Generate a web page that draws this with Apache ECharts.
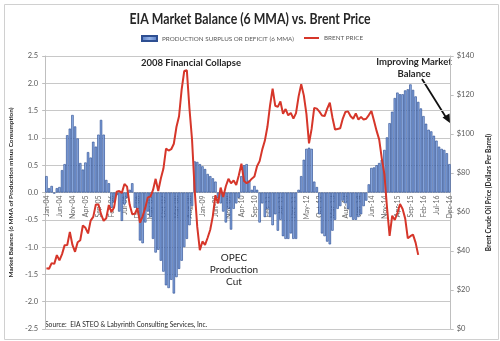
<!DOCTYPE html>
<html><head><meta charset="utf-8">
<script src="https://cdn.jsdelivr.net/npm/echarts@6/dist/echarts.min.js"></script>
<style>html,body{margin:0;padding:0;background:#fff}#c{width:500px;height:341px}</style>
</head><body><div id="c"></div>
<script>
var startYear = 2004, endYear = 2016;
var monNames = ['Jan','Feb','Mar','Apr','May','Jun','Jul','Aug','Sep','Oct','Nov','Dec'];
var categories = [];
for (var y = startYear; y <= endYear; y++) for (var m = 0; m < 12; m++) categories.push(monNames[m] + '-' + String(y).slice(2));

var balance = [
 0.30, 0.08, 0.12,-0.02, 0.08, 0.10, 0.41, 0.52, 1.05, 1.17, 1.42, 1.21,
 0.99, 0.54, 0.42, 0.55, 0.74, 0.64, 0.93, 0.84, 1.06, 1.33, 1.06, 0.23,
 0.17,-0.28,-0.18,-0.05,-0.35,-0.52,-0.22,-0.10, 0.05, 0.17,-0.28,-0.30,
-0.88,-0.93,-0.55,-0.35,-0.45,-0.85,-1.10,-1.05,-1.25,-1.45,-1.70,-1.75,
-1.60,-1.85,-1.55,-1.40,-1.25,-1.00,-0.85,-0.60,-0.25, 0.57, 0.56, 0.52,
 0.48, 0.43, 0.34, 0.30, 0.26, 0.20,-0.10,-0.20,-0.35,-0.55,-0.30,-0.68,
-0.30,-0.20,-0.10, 0.30, 0.50, 0.52, 0.22, 0.05, 0.12, 0.05,-0.55,-0.20,
-0.45,-0.30,-0.45,-0.60,-0.40,-0.70,-0.50,-0.80,-0.85,-0.85,-0.75,-0.85,
-0.85, 0.05, 0.30, 0.60, 0.80, 0.82, 0.80, 0.20, 0.10,-0.40,-0.75,-0.80,
-0.90,-0.95,-0.70,-0.50,-0.30,-0.25,-0.15,-0.20,-0.30,-0.45,-0.50,-0.50,
-0.45,-0.40,-0.25,-0.15, 0.15, 0.45, 0.46, 0.50, 0.54, 0.60, 0.78, 1.01,
 1.27, 1.48, 1.73, 1.83, 1.80, 1.80, 1.87, 1.89, 1.98, 1.88, 1.76, 1.66,
 1.54, 1.40, 1.26, 1.15, 1.12, 1.04, 0.95, 0.84, 0.80, 0.78, 0.72, 0.52
];

var brent = [
 31.2, 30.9, 33.8, 33.4, 37.9, 35.2, 38.4, 43.0, 43.1, 49.8, 43.1, 39.6,
 44.5, 45.5, 53.1, 51.9, 49.0, 55.6, 57.5, 63.9, 63.8, 58.9, 55.5, 56.8,
 63.6, 60.0, 62.3, 70.4, 70.8, 69.8, 74.4, 73.0, 63.8, 58.9, 59.1, 62.0,
 54.5, 57.8, 62.1, 67.5, 67.9, 71.3, 77.0, 70.8, 77.2, 82.3, 92.5, 91.5,
 92.2, 95.0, 103.6, 109.1, 122.8, 132.3, 132.7, 113.2, 97.2, 71.6, 52.5, 40.4,
 44.9, 43.1, 46.8, 50.9, 57.9, 68.6, 64.4, 72.5, 67.7, 73.2, 77.0, 74.7,
 76.2, 73.8, 78.8, 84.8, 75.9, 74.8, 75.6, 77.1, 78.2, 83.5, 86.1, 92.0,
 96.5, 103.7, 114.6, 123.3, 114.5, 113.9, 116.7, 110.4, 112.8, 109.6, 110.8, 107.9,
 110.7, 119.3, 125.5, 119.8, 110.3, 95.2, 102.6, 113.4, 113.0, 111.5, 109.5, 109.2,
 113.0, 116.1, 108.5, 102.3, 102.6, 102.9, 107.9, 111.3, 111.6, 109.1, 107.8, 110.6,
 107.4, 108.8, 107.4, 107.8, 109.7, 111.8, 106.8, 101.6, 97.1, 87.4, 79.4, 62.3,
 47.8, 58.1, 55.9, 59.5, 64.1, 61.5, 56.6, 46.5, 47.6, 48.4, 44.3, 38.0
];

var leftTicks = {min: -2.5, max: 2.5, step: 0.5};
var rightTicks = {min: 0, max: 140, step: 20};

var gridTop = 56, gridBottom = 12, H = 341;
var plotH = H - gridTop - gridBottom;
var zeroOffset = -plotH * (0 - leftTicks.min) / (leftTicks.max - leftTicks.min);

var chart = echarts.init(document.getElementById('c'), null, {renderer: 'canvas'});
var gray = '#595959';
var dark = '#262626';
var font = 'Lato';
function label(x, y, text, size, bold, sx) {
  return {type: 'text', x: x, y: y, scaleX: sx || 1,
    style: {text: text, fontSize: size, fontWeight: bold ? 'bold' : 'normal', fontFamily: font, fill: dark, align: 'center', verticalAlign: 'middle'}};
}
chart.setOption({
  animation: false,
  textStyle: {fontFamily: font},
  legend: [{
    data: ['PRODUCTION SURPLUS OR DEFICIT (6 MMA)'],
    left: 141, top: 35, itemWidth: 15, itemHeight: 5, itemGap: 2,
    icon: 'rect', padding: 0,
    textStyle: {fontSize: 6.3, color: gray}
  }, {
    data: ['BRENT PRICE'],
    left: 304, top: 35, itemWidth: 15, itemHeight: 2, padding: 0,
    icon: 'rect',
    textStyle: {fontSize: 6.3, color: gray}
  }],
  grid: {left: 43, right: 45, top: gridTop, bottom: gridBottom},
  xAxis: {
    type: 'category', data: categories, position: 'bottom', offset: zeroOffset,
    axisLine: {onZero: false, lineStyle: {color: '#bfbfbf'}},
    axisTick: {show: false},
    axisLabel: {interval: 4, rotate: 90, fontSize: 7, color: '#666', margin: 3}
  },
  yAxis: [{
    type: 'value', min: leftTicks.min, max: leftTicks.max, interval: leftTicks.step,
    name: 'Market Balance (6 MMA of Production minus Consumption)',
    nameLocation: 'middle', nameRotate: 90, nameGap: 21,
    nameTextStyle: {fontSize: 6.4, fontWeight: 'bold', color: dark},
    axisLine: {show: true, lineStyle: {color: '#bfbfbf'}},
    axisTick: {show: true, length: 3, lineStyle: {color: '#bfbfbf'}},
    axisLabel: {fontSize: 7.5, color: gray, margin: 7, formatter: function (v) { return v.toFixed(1); }},
    splitLine: {lineStyle: {color: '#c8c8c8', width: 1}}
  }, {
    type: 'value', min: rightTicks.min, max: rightTicks.max, interval: rightTicks.step,
    position: 'right',
    name: 'Brent Crude Oil Price (Dollars Per Barrel)',
    nameLocation: 'middle', nameRotate: 90, nameGap: 27,
    nameTextStyle: {fontSize: 6.5, fontWeight: 'bold', color: dark},
    axisLine: {show: true, lineStyle: {color: '#bfbfbf'}},
    axisTick: {show: true, length: 3, lineStyle: {color: '#bfbfbf'}},
    axisLabel: {fontSize: 7.5, color: gray, margin: 6, formatter: function (v) { return '$' + v; }},
    splitLine: {show: false}
  }],
  series: [{
    name: 'PRODUCTION SURPLUS OR DEFICIT (6 MMA)',
    type: 'bar', data: balance, yAxisIndex: 0,
    barCategoryGap: '8%',
    itemStyle: {
      color: new echarts.graphic.LinearGradient(0, 0, 1, 0, [
        {offset: 0, color: '#5379c2'}, {offset: 0.5, color: '#94b3e8'}, {offset: 1, color: '#5379c2'}
      ]),
      borderColor: '#2e4f92', borderWidth: 0.6
    }
  }, {
    name: 'BRENT PRICE',
    type: 'line', data: brent, yAxisIndex: 1,
    symbol: 'none', smooth: false,
    lineStyle: {color: '#d6362a', width: 2},
    itemStyle: {color: '#d6362a'}
  }],
  graphic: [
    {type: 'rect', left: 2, top: 2, shape: {width: 494, height: 335}, style: {fill: 'none', stroke: '#d0d0d0', lineWidth: 1}, silent: true},
    label(250, 19, 'EIA Market Balance (6 MMA) vs. Brent Price', 15, true, 0.82),
    label(191, 63, '2008 Financial Collapse', 9.5, true),
    label(414, 62, 'Improving Market', 9.5, true),
    label(414, 74, 'Balance', 9.5, true),
    label(234, 258, 'OPEC', 10, false),
    label(234, 270, 'Production', 10, false),
    label(234, 282, 'Cut', 10, false),
    {type: 'text', x: 45, y: 325, style: {text: 'Source:  EIA STEO & Labyrinth Consulting Services, Inc.', fontSize: 6.7, fontFamily: font, fill: dark, align: 'left', verticalAlign: 'middle'}},
    {type: 'line', shape: {x1: 422, y1: 79, x2: 447, y2: 119}, style: {stroke: '#111', lineWidth: 1.8}},
    {type: 'polygon', shape: {points: [[450, 123], [442.5, 117.5], [449.5, 113.5]]}, style: {fill: '#111'}}
  ]
});
</script></body></html>
